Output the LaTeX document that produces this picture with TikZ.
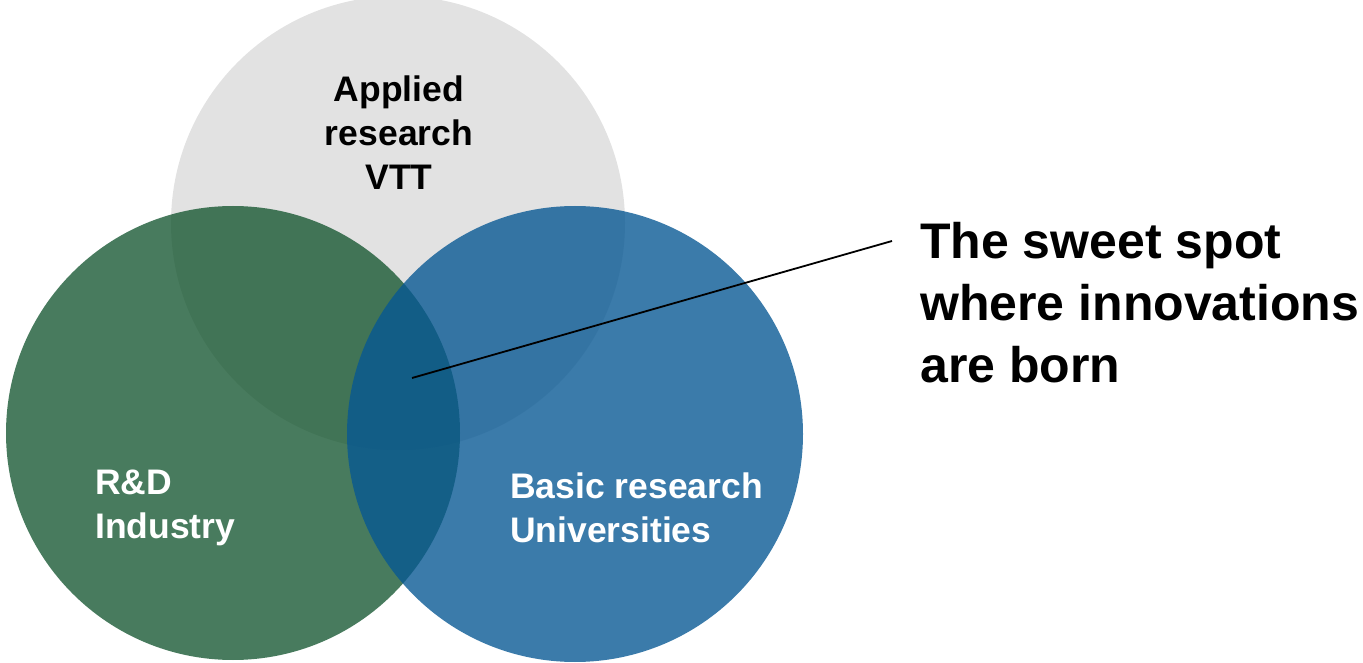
\documentclass[tikz,border=0pt]{standalone}
\usepackage{fontspec}
\setmainfont{Liberation Sans}
\definecolor{vttgray}{RGB}{226,226,226}
\definecolor{rdgreen}{RGB}{15,82,43}
\definecolor{unblue}{RGB}{6,87,147}
\begin{document}
\begin{tikzpicture}[
  x=1pt, y=1pt,
  area/.style={circle, minimum size=454pt, inner sep=0pt},
  label/.style={inner sep=0pt, font=\bfseries\fontsize{35.5}{44}\selectfont},
  callout/.style={inner sep=0pt, align=left, font=\bfseries\fontsize{50}{62}\selectfont}
]
\useasboundingbox (0,0) rectangle (1363,662);

% the three areas
\node[area, fill=vttgray] (vtt) at (398,439) {};
\node[area, fill=rdgreen, fill opacity=0.76] (industry) at (233,229) {};
\node[area, fill=unblue, fill opacity=0.79, minimum size=456pt] (uni) at (575,228) {};

\node[label, anchor=base, align=center] (vttText) at (399,472) {Applied\\research\\VTT};
\node[label, anchor=base west, align=left, text=white] (industryText) at (95,124) {R\&D\\Industry};
\node[label, anchor=base west, align=left, text=white] (uniText) at (510,120) {Basic research\\Universities};

% sweet spot callout
\node[callout, anchor=base west] (sweet) at (920,279) {The sweet spot\\where innovations\\are born};
\coordinate (spot) at (412,284);
\coordinate (tip) at (892,421);
\draw[line width=1.8pt] (spot) -- (tip);
\end{tikzpicture}
\end{document}
